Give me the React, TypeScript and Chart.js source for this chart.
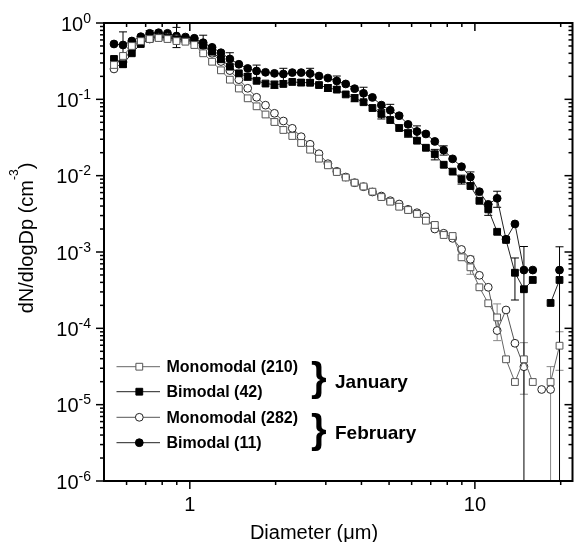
import React, { useEffect, useRef } from 'react';
import { Chart, registerables } from 'chart.js';

Chart.register(...registerables);

const FONT = '"Liberation Sans", Arial, Helvetica, sans-serif';

// APS channel midpoints (µm)
const diameters = [
  0.542, 0.583, 0.626, 0.673, 0.723, 0.777, 0.835, 0.898, 0.965, 1.037,
  1.114, 1.197, 1.286, 1.382, 1.486, 1.596, 1.715, 1.843, 1.981, 2.129,
  2.288, 2.458, 2.642, 2.839, 3.051, 3.278, 3.523, 3.786, 4.068, 4.371,
  4.698, 5.048, 5.425, 5.829, 6.264, 6.732, 7.234, 7.774, 8.354, 8.977,
  9.647, 10.37, 11.14, 11.97, 12.86, 13.82, 14.86, 15.96, 17.15, 18.43,
  19.81,
];

const janMono = [
  0.282, 0.37, 0.5, 0.58, 0.617, 0.636, 0.617, 0.58, 0.569, 0.515,
  0.401, 0.311, 0.24, 0.181, 0.1386, 0.1031, 0.081, 0.0633, 0.0505, 0.0397,
  0.0331, 0.0268, 0.0219, 0.0167, 0.01367, 0.01117, 0.00946, 0.00809, 0.00721, 0.00617,
  0.00525, 0.00456, 0.00392, 0.00355, 0.00315, 0.00257, 0.00226, 0.00167, 0.00162, 0.000852,
  0.00063, 0.000345, 0.000213, 0.000139, 0.0000393, 0.0000198, 0.0000393, 0.0000198, null, 0.0000198,
  0.0000592,
];

const janBi = [
  0.338, 0.288, 0.401, 0.531, 0.617, 0.65, 0.642, 0.612, 0.613, 0.586,
  0.515, 0.421, 0.335, 0.268, 0.219, 0.198, 0.175, 0.161, 0.156, 0.159,
  0.169, 0.166, 0.165, 0.154, 0.141, 0.134, 0.116, 0.104, 0.0917, 0.077,
  0.0643, 0.0536, 0.0421, 0.0359, 0.0287, 0.0232, 0.0191, 0.0139, 0.0113, 0.00896,
  0.00732, 0.00469, 0.00362, 0.00184, 0.00144, 0.000535, 0.000325, 0.00043, null, 0.000215,
  0.00043,
];

const febMono = [
  0.25, 0.308, 0.47, 0.564, 0.617, 0.655, 0.655, 0.626, 0.599, 0.564,
  0.507, 0.401, 0.313, 0.238, 0.181, 0.1395, 0.1063, 0.0838, 0.0656, 0.052,
  0.0417, 0.0324, 0.0258, 0.0194, 0.01435, 0.0114, 0.0096, 0.00809, 0.00717, 0.00611,
  0.00541, 0.0047, 0.00425, 0.00362, 0.00327, 0.0029, 0.002, 0.00176, 0.00151, 0.00108,
  0.000802, 0.000495, 0.000345, 0.0000935, 0.000174, 0.0000637, 0.0000314, null, 0.0000158, 0.0000158,
  null,
];

const febBi = [
  0.531, 0.515, 0.581, 0.662, 0.733, 0.746, 0.733, 0.676, 0.655, 0.631,
  0.552, 0.48, 0.408, 0.338, 0.288, 0.254, 0.235, 0.226, 0.219, 0.215,
  0.224, 0.224, 0.218, 0.202, 0.19, 0.174, 0.159, 0.138, 0.12, 0.106,
  0.084, 0.072, 0.061, 0.047, 0.0379, 0.0352, 0.0281, 0.0216, 0.0166, 0.0131,
  0.0096, 0.00617, 0.00421, 0.00505, 0.00147, 0.00233, 0.00058, 0.00058, null, null,
  0.00058,
];

// error bars: [channel index, ± value]
const janMonoErr = [
  [18, 0.003], [21, 0.0015], [24, 0.0008], [27, 0.0005], [30, 0.0003],
  [36, 0.00015], [40, 0.00012], [43, 0.00007], [46, 0.0000256], [50, 0.000031],
];
const janBiErr = [
  [12, 0.03], [15, 0.02], [18, 0.017], [21, 0.015], [24, 0.014], [27, 0.011],
  [30, 0.009], [33, 0.004], [36, 0.003], [39, 0.0012], [42, 0.0006], [45, 0.0003], [50, 0.00074],
];
const febMonoErr = [
  [1, 0.04], [16, 0.006], [19, 0.003], [22, 0.0015], [25, 0.0006], [28, 0.0004],
  [31, 0.0003], [34, 0.0002], [37, 0.0001], [40, 0.00008], [49, 0.0000157],
];
const febBiErr = [
  [1, 0.25], [4, 0.06], [7, 0.2], [10, 0.14], [13, 0.07], [16, 0.046], [19, 0.04],
  [22, 0.037], [25, 0.028], [28, 0.024], [31, 0.014], [34, 0.007], [37, 0.003],
  [40, 0.0016], [43, 0.0012], [46, 0.0006],
];

const yTickExponents = [0, -1, -2, -3, -4, -5, -6];
const xTickLabels = [1, 10];
const legendLabels = ['Monomodal (210)', 'Bimodal (42)', 'Monomodal (282)', 'Bimodal (11)'];
const groupLabels = ['January', 'February'];
const xTitle = 'Diameter (\u03bcm)';
const yTitleMain = 'dN/dlogDp (cm';
const yTitleSup = '-3';

type SeriesStyle = { shape: 'rect' | 'circle'; fill: string; stroke: string; line: string; bar: string };
const styles: SeriesStyle[] = [
  { shape: 'rect', fill: '#ffffff', stroke: '#555555', line: '#666666', bar: '#888888' },
  { shape: 'rect', fill: '#000000', stroke: '#000000', line: '#222222', bar: '#000000' },
  { shape: 'circle', fill: '#ffffff', stroke: '#222222', line: '#555555', bar: '#888888' },
  { shape: 'circle', fill: '#000000', stroke: '#000000', line: '#222222', bar: '#000000' },
];
const seriesValues = [janMono, janBi, febMono, febBi];
const seriesErrors = [janMonoErr, janBiErr, febMonoErr, febBiErr];

const RECT_R = 4.8;
const CIRC_R = 3.9;

function drawMarker(ctx: CanvasRenderingContext2D, s: SeriesStyle, x: number, y: number) {
  ctx.save();
  ctx.fillStyle = s.fill;
  ctx.strokeStyle = s.stroke;
  ctx.lineWidth = 1;
  ctx.beginPath();
  if (s.shape === 'rect') {
    const h = RECT_R * Math.SQRT1_2;
    ctx.rect(x - h, y - h, 2 * h, 2 * h);
  } else {
    ctx.arc(x, y, CIRC_R, 0, Math.PI * 2);
  }
  ctx.fill();
  ctx.stroke();
  ctx.restore();
}

const errorBarPlugin = {
  id: 'errorBars',
  beforeDatasetsDraw(chart: any) {
    const { ctx, chartArea: a } = chart;
    const xs = chart.scales.x;
    const ys = chart.scales.y;
    ctx.save();
    ctx.beginPath();
    ctx.rect(a.left, a.top, a.right - a.left, a.bottom - a.top);
    ctx.clip();
    seriesErrors.forEach((errs, si) => {
      const vals = seriesValues[si];
      ctx.strokeStyle = styles[si].bar;
      ctx.lineWidth = 1;
      errs.forEach(([idx, e]) => {
        const v = vals[idx];
        if (v == null) return;
        const px = xs.getPixelForValue(diameters[idx]);
        const hi = ys.getPixelForValue(v + e);
        const lo = v - e > 0 ? ys.getPixelForValue(v - e) : a.bottom + 20;
        ctx.beginPath();
        ctx.moveTo(px, hi);
        ctx.lineTo(px, lo);
        ctx.moveTo(px - 4, hi);
        ctx.lineTo(px + 4, hi);
        if (v - e > 0) {
          ctx.moveTo(px - 4, lo);
          ctx.lineTo(px + 4, lo);
        }
        ctx.stroke();
      });
    });
    ctx.restore();
  },
};

const framePlugin = {
  id: 'frame',
  afterDraw(chart: any) {
    const { ctx, chartArea: a } = chart;
    const xs = chart.scales.x;
    const ys = chart.scales.y;
    ctx.save();
    ctx.strokeStyle = '#000';
    ctx.fillStyle = '#000';
    ctx.lineWidth = 1.5;

    const line = (x1: number, y1: number, x2: number, y2: number) => {
      ctx.beginPath();
      ctx.moveTo(x1, y1);
      ctx.lineTo(x2, y2);
      ctx.stroke();
    };

    // x ticks
    for (let e = -1; e <= 1; e++) {
      for (let m = 1; m <= 9; m++) {
        const v = m * Math.pow(10, e);
        if (v <= xs.min * 1.0001 || v >= xs.max * 0.9999) continue;
        const px = xs.getPixelForValue(v);
        const len = m === 1 ? 8 : 4;
        line(px, a.bottom, px, a.bottom + len);
        line(px, a.top, px, a.top + len);
      }
    }
    // y ticks
    for (let e = -6; e <= 0; e++) {
      for (let m = 1; m <= 9; m++) {
        const v = m * Math.pow(10, e);
        if (v > ys.max * 1.0001) continue;
        const py = ys.getPixelForValue(v);
        const len = m === 1 ? 8 : 4;
        line(a.left - len, py, a.left, py);
        line(a.right - len, py, a.right, py);
      }
    }
    // frame
    ctx.lineWidth = 2;
    ctx.strokeRect(a.left, a.top, a.right - a.left, a.bottom - a.top);

    // y tick labels 10^n
    const mainFont = `20px ${FONT}`;
    const supFont = `14px ${FONT}`;
    ctx.textBaseline = 'alphabetic';
    ctx.textAlign = 'left';
    yTickExponents.forEach((ex) => {
      const py = ys.getPixelForValue(Math.pow(10, ex));
      const sup = ex === 0 ? '0' : `-${-ex}`;
      ctx.font = mainFont;
      const w1 = ctx.measureText('10').width;
      ctx.font = supFont;
      const w2 = ctx.measureText(sup).width;
      const x0 = 91 - w1 - w2;
      ctx.font = mainFont;
      ctx.fillText('10', x0, py + 7.5);
      ctx.font = supFont;
      ctx.fillText(sup, x0 + w1, py - 0.5);
    });

    // x tick labels
    ctx.font = `20px ${FONT}`;
    ctx.textAlign = 'center';
    xTickLabels.forEach((v) => {
      ctx.fillText(String(v), xs.getPixelForValue(v), 511);
    });

    // x title
    ctx.font = `20px ${FONT}`;
    ctx.fillText(xTitle, 314, 539);

    // y title (rotated)
    ctx.save();
    ctx.translate(33, 238);
    ctx.rotate(-Math.PI / 2);
    ctx.textAlign = 'left';
    ctx.font = `20px ${FONT}`;
    const wa = ctx.measureText(yTitleMain).width;
    const wc = ctx.measureText(')').width;
    ctx.font = `12px ${FONT}`;
    const wb = ctx.measureText(yTitleSup).width;
    let sx = -(wa + wb + wc) / 2;
    ctx.font = `20px ${FONT}`;
    ctx.fillText(yTitleMain, sx, 0);
    sx += wa;
    ctx.font = `12px ${FONT}`;
    ctx.fillText(yTitleSup, sx, -15);
    sx += wb;
    ctx.font = `20px ${FONT}`;
    ctx.fillText(')', sx, 0);
    ctx.restore();

    // legend
    const rows = [366.7, 391.7, 417.3, 442.7];
    ctx.font = `bold 16px ${FONT}`;
    ctx.textAlign = 'left';
    ctx.textBaseline = 'middle';
    legendLabels.forEach((lab, i) => {
      const s = styles[i];
      const y = rows[i];
      ctx.strokeStyle = s.line;
      ctx.lineWidth = 1;
      line(116.5, y, 160, y);
      drawMarker(ctx, s, 139.3, y);
      ctx.fillStyle = '#000';
      ctx.fillText(lab, 166.5, y + 1);
    });

    // braces + group labels
    ctx.textBaseline = 'alphabetic';
    ctx.font = `bold 40px ${FONT}`;
    ctx.fillText('}', 311, 391);
    ctx.fillText('}', 311, 442.5);
    ctx.font = `bold 19px ${FONT}`;
    ctx.fillText(groupLabels[0], 335, 388);
    ctx.fillText(groupLabels[1], 335, 438.5);

    ctx.restore();
  },
};

export default function App() {
  const ref = useRef<HTMLCanvasElement>(null);

  useEffect(() => {
    const canvas = ref.current;
    if (!canvas) return;
    const mk = (vals: (number | null)[]) => diameters.map((d, i) => ({ x: d, y: vals[i] }));
    const datasets = seriesValues.map((vals, i) => {
      const s = styles[i];
      return {
        label: legendLabels[i],
        data: mk(vals),
        pointStyle: s.shape,
        pointRadius: s.shape === 'rect' ? RECT_R : CIRC_R,
        pointBackgroundColor: s.fill,
        pointBorderColor: s.stroke,
        pointBorderWidth: 1,
        borderColor: s.line,
        borderWidth: 1,
        fill: false,
        tension: 0,
        spanGaps: false,
      };
    });
    const chart = new Chart(canvas, {
      type: 'line',
      data: { datasets: datasets as any },
      options: {
        responsive: false,
        animation: false,
        devicePixelRatio: 1,
        events: [],
        layout: { padding: { left: 104, top: 23, right: 1.5, bottom: 61 }, autoPadding: false } as any,
        scales: {
          x: { type: 'logarithmic', min: 0.5, max: 22, display: false },
          y: { type: 'logarithmic', min: 1e-6, max: 1, display: false },
        },
        plugins: { legend: { display: false }, tooltip: { enabled: false } },
      },
      plugins: [errorBarPlugin, framePlugin],
    });
    return () => chart.destroy();
  }, []);

  return (
    <canvas
      ref={ref}
      width={574}
      height={542}
      style={{ position: 'absolute', left: 0, top: 0, width: 574, height: 542 }}
    />
  );
}
